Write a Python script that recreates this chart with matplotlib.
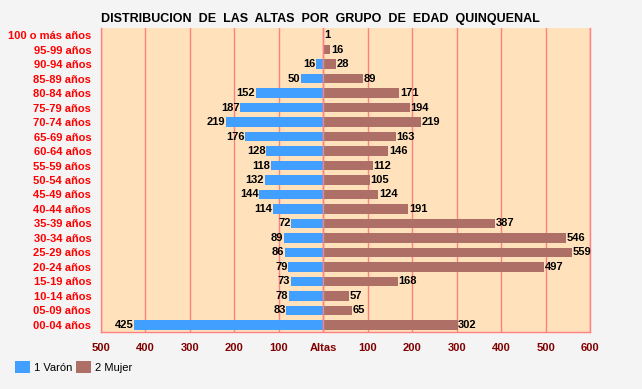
"""
Distribución de las altas por grupo de edad quinquenal (pirámide)
"""

import matplotlib
matplotlib.use('Agg')
import numpy as np
import matplotlib.pyplot as plt
from matplotlib.patches import Patch

plt.rcParams['font.family'] = ['Liberation Sans', 'DejaVu Sans']

# orden de arriba a abajo
grupos = ["100 o más años", "95-99 años", "90-94 años", "85-89 años", "80-84 años",
          "75-79 años", "70-74 años", "65-69 años", "60-64 años", "55-59 años",
          "50-54 años", "45-49 años", "40-44 años", "35-39 años", "30-34 años",
          "25-29 años", "20-24 años", "15-19 años", "10-14 años", "05-09 años",
          "00-04 años"]

varon = [0, 0, 16, 50, 152, 187, 219, 176, 128, 118, 132, 144, 114, 72, 89, 86, 79, 73, 78, 83, 425]
mujer = [1, 16, 28, 89, 171, 194, 219, 163, 146, 112, 105, 124, 191, 387, 546, 559, 497, 168, 57, 65, 302]

xticks = [-500, -400, -300, -200, -100, 0, 100, 200, 300, 400, 500, 600]
xticklabels = ["500", "400", "300", "200", "100", "Altas", "100", "200", "300", "400", "500", "600"]

c_varon = "#409fff"
c_mujer = "#ae7066"
c_grid = "#ff8080"

fig = plt.figure(figsize=(6.42, 3.89), dpi=100, facecolor="#f4f4f4")
ax = fig.add_axes([0.1573, 0.1465, 0.7617, 0.7815])
ax.set_facecolor("#ffe2bb")

y = np.arange(len(grupos))
b1 = ax.barh(y, -np.array(varon), height=0.66, color=c_varon, zorder=2)
b2 = ax.barh(y, mujer, height=0.66, color=c_mujer, zorder=2)

ax.bar_label(b1, labels=[str(v) if v else "" for v in varon], padding=0.5,
             fontsize=8, fontweight='bold', color='black')
ax.bar_label(b2, labels=[str(v) if v else "" for v in mujer], padding=0.5,
             fontsize=8, fontweight='bold', color='black')

ax.axvline(0, color=c_grid, lw=1, zorder=3)

ax.set_xlim(-500, 600)
ax.set_ylim(len(grupos) - 0.5, -0.5)
ax.set_xticks(xticks)
ax.set_xticklabels(xticklabels, fontsize=8, fontweight='bold', color="#800000")
ax.set_yticks(y)
ax.set_yticklabels(grupos, fontsize=8, fontweight='bold', color="#ff0000")
ax.tick_params(axis='both', length=0)
ax.tick_params(axis='x', pad=8)
ax.tick_params(axis='y', pad=7)

ax.grid(axis='x', color=c_grid, lw=1, zorder=1)
ax.set_axisbelow(True)
ax.spines['top'].set_visible(False)
for s in ['left', 'bottom', 'right']:
    ax.spines[s].set_color(c_grid)
    ax.spines[s].set_linewidth(1)

fig.text(0.4985, 0.952, "DISTRIBUCION  DE  LAS  ALTAS  POR  GRUPO  DE  EDAD  QUINQUENAL",
         ha='center', va='center', fontsize=9, fontweight='bold', color='black')

handles = [Patch(facecolor=c_varon, label="1 Varón"), Patch(facecolor=c_mujer, label="2 Mujer")]
fig.legend(handles=handles, loc='center left', bbox_to_anchor=(0.017, 0.057), ncol=2,
           frameon=False, fontsize=8, handlelength=1.35, handleheight=1.35,
           handletextpad=0.35, columnspacing=0.3, borderaxespad=0)

plt.savefig('out.png', dpi=100, facecolor=fig.get_facecolor())
